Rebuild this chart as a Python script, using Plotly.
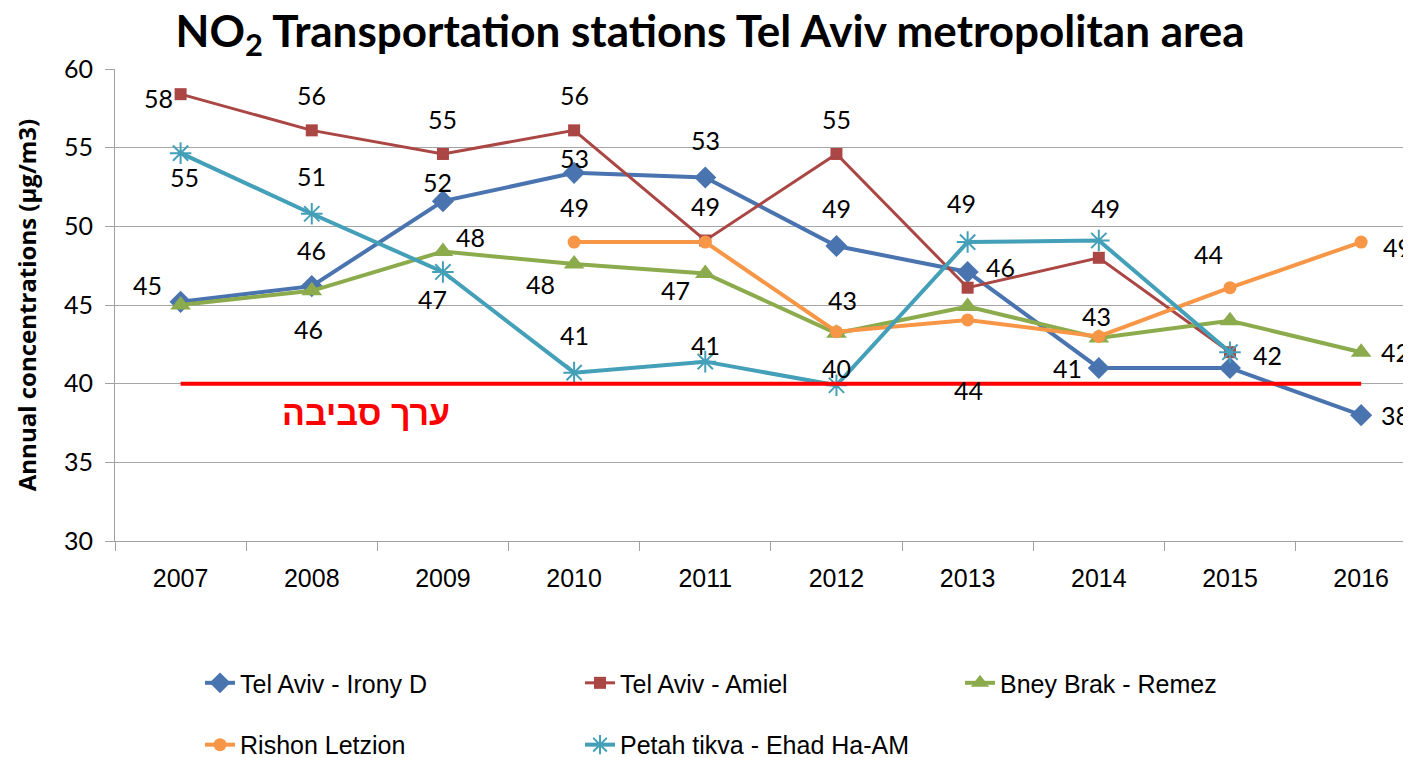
import plotly.graph_objects as go

# NO2 annual concentrations, transportation stations, Tel Aviv metro
years = ["2007", "2008", "2009", "2010", "2011", "2012", "2013", "2014", "2015", "2016"]

irony_d = [45.2, 46.2, 51.6, 53.4, 53.1, 48.75, 47.1, 41.0, 41.0, 38.0]
amiel = [58.4, 56.1, 54.6, 56.1, 49.1, 54.6, 46.1, 48.0, 42.0, None]
bney_brak = [45.0, 45.9, 48.4, 47.6, 47.0, 43.2, 44.9, 42.9, 44.0, 42.0]
rishon = [None, None, None, 49.0, 49.0, 43.3, 44.05, 43.0, 46.1, 49.0]
petah_tikva = [54.65, 50.8, 47.1, 40.7, 41.4, 39.9, 49.0, 49.1, 42.0, None]

AMBIENT = 40  # ambient value (ערך סביבה)

series = [
    ("Tel Aviv - Irony D", irony_d, "#4a74b0", "diamond", 17, 4, "legend"),
    ("Tel Aviv - Amiel", amiel, "#aa4643", "square", 12, 3, "legend"),
    ("Bney Brak - Remez", bney_brak, "#8cab4c", "triangle-up", 18, 4, "legend"),
    ("Rishon Letzion", rishon, "#f79646", "circle", 13, 4, "legend2"),
    ("Petah tikva - Ehad Ha-AM", petah_tikva, "#44a0b8", "asterisk-open", 18, 4, "legend2"),
]

# label offsets (pixels) per series / point index, as placed in the original chart
label_offsets = {
    0: {0: (-33, 17), 1: (0, 36), 2: (-5, 19), 3: (0, 15), 4: (0, 38), 5: (0, 38), 7: (-31, 0), 9: (34, 0)},
    1: {0: (-22, -4), 1: (0, 35), 2: (0, 35), 3: (0, 35), 4: (0, 34), 5: (0, 35), 6: (33, 21), 8: (38, -3)},
    2: {1: (-3, -38), 2: (28, 15), 3: (-34, -20), 4: (-30, -16), 5: (6, 33), 7: (-2, 22), 8: (-21, 67), 9: (34, 0)},
    3: {3: (0, 35), 6: (1, -70), 9: (36, -5)},
    4: {0: (4, -24), 1: (0, 38), 2: (-10, -27), 3: (0, 38), 4: (0, 17), 5: (0, 17), 6: (-6, 39), 7: (7, 32)},
}

fig = go.Figure()
for name, vals, color, symbol, size, width, leg in series:
    if symbol == "asterisk-open":
        marker = dict(symbol=symbol, size=size, line=dict(color=color, width=2))
    else:
        marker = dict(symbol=symbol, size=size, color=color)
    fig.add_trace(go.Scatter(x=years, y=vals, name=name, mode="lines+markers",
                             line=dict(color=color, width=width), marker=marker,
                             legend=leg, connectgaps=False))

fig.add_trace(go.Scatter(x=[years[0], years[-1]], y=[AMBIENT, AMBIENT], mode="lines",
                         line=dict(color="#ff0000", width=4), showlegend=False,
                         hoverinfo="skip"))

annotations = []
for si, offs in label_offsets.items():
    vals = series[si][1]
    for i, (dx, dy) in offs.items():
        annotations.append(dict(x=i, y=vals[i], text=str(round(vals[i])),
                                showarrow=False, xshift=dx, yshift=dy,
                                xanchor="center", yanchor="middle",
                                font=dict(family="Lato, sans-serif", size=25, color="#000000")))

annotations.append(dict(x=0.194, xref="paper", xanchor="center", y=AMBIENT, yshift=-29,
                        text="<b>ערך סביבה</b>", showarrow=False,
                        font=dict(family="Liberation Sans, Arial", size=34, color="#ff0000")))

leg_font = dict(family="Liberation Sans, Arial", size=25, color="#000000")

# the page body has an 8px margin, so the figure is 8px smaller than the window
fig.update_layout(
    width=1403, height=750,
    paper_bgcolor="white", plot_bgcolor="white",
    margin=dict(l=107, r=0, t=61, b=217, autoexpand=False),
    title=dict(text="<b>NO<sub>2</sub> Transportation stations Tel Aviv metropolitan area</b>",
               x=0.5004, xanchor="center", y=0.969, yanchor="middle",
               font=dict(family="Lato, sans-serif", size=44, color="#000000")),
    xaxis=dict(type="category", range=[-0.5, 9.38], showgrid=False, automargin=False,
               showline=True, linecolor="#a0a0a0", linewidth=1,
               ticks="outside", tickson="boundaries", ticklen=9, tickcolor="#a0a0a0",
               tickfont=dict(family="Liberation Sans, Arial", size=25, color="#000000"),
               ticklabelstandoff=15),
    yaxis=dict(range=[30, 60], dtick=5, showgrid=True, gridcolor="#a6a6a6", gridwidth=1,
               showline=True, linecolor="#a0a0a0", linewidth=1, zeroline=False, automargin=False,
               ticks="outside", ticklen=9, tickcolor="#a0a0a0",
               tickfont=dict(family="Lato, sans-serif", size=25, color="#000000"),
               ticklabelstandoff=7,
               title=dict(text="<b>Annual concentrations (µg/m3)</b>", standoff=20,
                          font=dict(family="Open Sans, sans-serif", size=24, color="#000000"))),
    legend=dict(orientation="h", x=0.0656, y=-0.301, xanchor="left", yanchor="middle",
                entrywidth=335, entrywidthmode="pixels", font=leg_font),
    legend2=dict(orientation="h", x=0.0656, y=-0.432, xanchor="left", yanchor="middle",
                 entrywidth=335, entrywidthmode="pixels", font=leg_font),
    annotations=annotations,
    hovermode="closest",
)

fig.write_html("out.html")
